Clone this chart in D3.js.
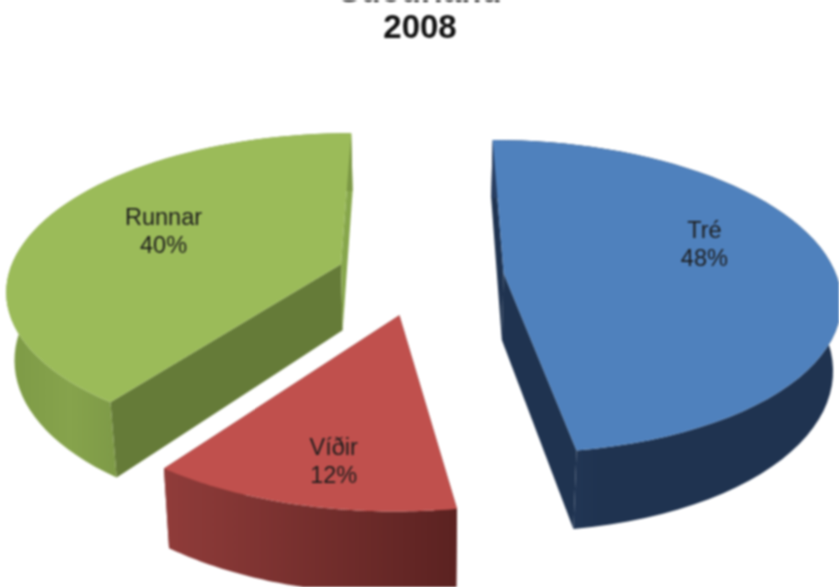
<!DOCTYPE html>
<html>
<head>
<meta charset="utf-8">
<script src="https://cdn.jsdelivr.net/npm/d3@7"></script>
<style>
    html, body { margin: 0; padding: 0; background: #fff; overflow: hidden; }
    svg { display: block; filter: blur(0.9px); }
    text { font-family: "Liberation Sans", Arial, sans-serif; }
</style>
</head>
<body>
<script>
// Chart values
const categories = ["Tré", "Víðir", "Runnar"];
const shares = [47.6, 12.4, 40];
const titleLines = ["Suðurland", "2008"];

// Slice colours: top face, cut walls, and rim gradient from left to right
const topColors = ["#4f81bd", "#c0504d", "#9bbb59"];
const startWallColors = ["#1f3350", "#7a302e", "#657b38"];
const endWallColors = ["#1f3350", "#7a302e", "#86a64b"];
const rimColors = [["#283d60", "#1f3350"], ["#903c3a", "#5b2221"], ["#7d9a46", "#86a34c", "#7b9745"]];

// Label placement inside each slice: angle offset from the slice middle (deg), radius fraction
const labelAngleOffset = [-13, -2, 4];
const labelRadius = [0.66, 0.79, 0.61];

const width = 839;
const height = 587;

// Pie geometry and the perspective the 3D pie is seen in
const vanishX = 420;
const centerY = 276;
const radius = 333;
const tilt = 0.462;
const perspective = 0.15;
const depthPlane = 154;
const depth = 67;
const explode = 84;

const svg = d3.select("body").append("svg")
    .attr("width", width)
    .attr("height", height)
    .attr("viewBox", [0, 0, width, height]);

const defs = svg.append("defs");

const data = categories.map((name, i) => ({name, value: shares[i], index: i}));
const arcs = d3.pie().sort(null).value(d => d.value)(data);

// Angle and radius fraction on the pie plane -> screen position
function project(slice, angle, r, bottom) {
    const mid = (slice.startAngle + slice.endAngle) / 2;
    const wx = r * radius * Math.sin(angle) + explode * Math.sin(mid);
    const wy = -(r * radius * Math.cos(angle) + explode * Math.cos(mid)) * tilt;
    const w = 1 / (1 - perspective * wy / depthPlane);
    if (bottom) {
        return [vanishX + wx * w * 0.98, centerY + wy * w + depth * w];
    }
    return [vanishX + wx * w, centerY + wy * w];
}

function rimAngles(slice) {
    const steps = 60;
    return d3.range(steps + 1).map(k => slice.startAngle + (slice.endAngle - slice.startAngle) * k / steps);
}

const line = d3.line();

const sliceOrder = [2, 0, 1];

sliceOrder.forEach(i => {
    const slice = arcs[i];
    const g = svg.append("g");
    const angles = rimAngles(slice);

    const topRim = angles.map(a => project(slice, a, 1, false));
    const bottomRim = angles.map(a => project(slice, a, 1, true));
    const apexTop = project(slice, 0, 0, false);
    const apexBottom = project(slice, 0, 0, true);

    // Cut walls
    g.append("path")
        .attr("d", line([apexTop, topRim[0], bottomRim[0], apexBottom]) + "Z")
        .attr("fill", startWallColors[i]);
    g.append("path")
        .attr("d", line([apexTop, topRim[topRim.length - 1], bottomRim[bottomRim.length - 1], apexBottom]) + "Z")
        .attr("fill", endWallColors[i]);

    // Outer rim, shaded along x
    const xs = d3.extent(topRim.concat(bottomRim), p => p[0]);
    const grad = defs.append("linearGradient")
        .attr("id", `rim${i}`)
        .attr("gradientUnits", "userSpaceOnUse")
        .attr("x1", xs[0]).attr("x2", i === 0 ? xs[0] + 110 : i === 2 ? xs[1] - 220 : xs[1])
        .attr("y1", 0).attr("y2", 0);
    rimColors[i].forEach((c, k) => {
        grad.append("stop")
            .attr("offset", k / (rimColors[i].length - 1))
            .attr("stop-color", c);
    });
    g.append("path")
        .attr("d", line(topRim.concat(bottomRim.slice().reverse())) + "Z")
        .attr("fill", `url(#rim${i})`);

    // Top face
    g.append("path")
        .attr("d", line([apexTop].concat(topRim)) + "Z")
        .attr("fill", topColors[i]);

    // Label
    const mid = (slice.startAngle + slice.endAngle) / 2;
    const pos = project(slice, mid + labelAngleOffset[i] * Math.PI / 180, labelRadius[i], false);
    const label = g.append("text")
        .attr("text-anchor", "middle")
        .attr("font-size", 23.5)
        .attr("fill", "#1c1c1c");
    label.append("tspan")
        .attr("x", pos[0]).attr("y", pos[1] - 6)
        .text(slice.data.name);
    label.append("tspan")
        .attr("x", pos[0]).attr("y", pos[1] + 22)
        .text(d3.format(".0f")(slice.data.value) + "%");
});

// Title, the first line runs off the top of the picture
svg.selectAll("text.title")
    .data(titleLines)
    .join("text")
    .attr("class", "title")
    .attr("x", vanishX)
    .attr("y", (d, i) => 1.5 + i * 36)
    .attr("text-anchor", "middle")
    .attr("font-size", 33)
    .attr("font-weight", "bold")
    .attr("fill", "#111")
    .text(d => d);
</script>
</body>
</html>
